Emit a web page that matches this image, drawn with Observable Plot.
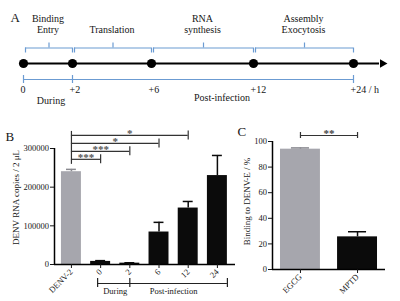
<!DOCTYPE html>
<html><head><meta charset="utf-8">
<script src="https://cdn.jsdelivr.net/npm/d3@7"></script>
<script src="https://cdn.jsdelivr.net/npm/@observablehq/plot@0.6"></script>
<style>
html,body{margin:0;padding:0;background:#fff;}
#fig{position:relative;width:400px;height:301px;overflow:hidden;background:#fff;}
#fig > svg{position:absolute;margin:0;}
</style></head><body><div id="fig"></div>
<script>
// ---------- Panel A data ----------
const phaseLabels = ["Binding\nEntry", "Translation", "RNA\nsynthesis", "Assembly\nExocytosis"];
const phaseStart = [0, 2, 6, 12];
const phaseEnd = [2, 6, 12, 24];
const timepoints = [0, 2, 6, 12, 24];
const timeLabels = ["0", "+2", "+6", "+12", "+24 / h"];
const spanLabels = ["During", "Post-infection"];
const spanStart = [0, 2];
const spanEnd = [2, 24];

// ---------- Panel B data ----------
const categories = ["DENV-2", "0", "2", "6", "12", "24"];
const rnaCopies = [240000, 8000, 3500, 84000, 146000, 230000];
const rnaErr = [6000, 2000, 1000, 25000, 17000, 52000];
const rnaTicks = [0, 100000, 200000, 300000];
const sigTargets = ["0", "2", "6", "12"];
const sigLabels = ["***", "***", "*", "*"];
const groupLabels = ["During", "Post-infection"];
const groupFrom = ["0", "2"];
const groupTo = ["2", "24"];

// ---------- Panel C data ----------
const compounds = ["EGCG", "MPTD"];
const binding = [94, 25.5];
const bindingErr = [1, 4];
const bindingTicks = [0, 20, 40, 60, 80, 100];
const sigC = {from: "EGCG", to: "MPTD", label: "**"};

// ---------- styling ----------
const serif = "'Liberation Serif', 'Times New Roman', serif";
const blue = "#6b9bd2";
const gray = "#a6a6ad";
const black = "#0b0b0b";
const ink = "#161616";
const fig = document.getElementById("fig");

// ================= Panel A =================
const phases = phaseLabels.map((label, i) => ({label, start: phaseStart[i], end: phaseEnd[i], mid: (phaseStart[i] + phaseEnd[i]) / 2}));
const spans = spanLabels.map((label, i) => ({label, start: spanStart[i], end: spanEnd[i]}));
const spanBounds = Array.from(new Set([...spanStart, ...spanEnd]));
const xA = {type: "linear", domain: timepoints, range: [23, 72, 151, 253, 353]};
const xAscale = Plot.scale({x: xA});
const pixMidHour = d => xAscale.invert((xAscale.apply(d.start) + xAscale.apply(d.end)) / 2);

const A = Plot.plot({
  width: 400, height: 110, margin: 0,
  style: {fontFamily: serif, fontSize: "10px", color: ink, background: "transparent"},
  x: {...xA, axis: null},
  y: {domain: [-47, 63], range: [110, 0], axis: null},
  marks: [
    // braces
    Plot.ruleY(phases, {x1: "start", x2: "end", y: 15.5, insetLeft: 2, stroke: blue, strokeWidth: 1.2}),
    Plot.ruleX(phases, {x: "start", y1: 10.5, y2: 15.5, dx: 2, stroke: blue, strokeWidth: 1.2}),
    Plot.ruleX(phases, {x: "end", y1: 10.5, y2: 15.5, stroke: blue, strokeWidth: 1.2}),
    Plot.ruleX(phases, {x: "mid", y1: 15.5, y2: 20.5, dx: 1, stroke: blue, strokeWidth: 1.2}),
    Plot.text(phases, {x: "mid", y: 30.5, text: "label", lineAnchor: "bottom", lineHeight: 1.15, fill: ink, fontSize: 10}),
    // timeline
    Plot.ruleY([0], {x1: 0, x2: 24, insetRight: -26, stroke: "black", strokeWidth: 2}),
    Plot.dot([24], {x: d => d, y: 0, symbol: "triangle", rotate: 90, r: 3.2, dx: 29, fill: "black", stroke: "none"}),
    Plot.dot(timepoints, {x: d => d, y: 0, r: 4.6, fill: "black"}),
    // bottom span
    Plot.ruleY(spans, {x1: "start", x2: "end", y: -16, stroke: blue, strokeWidth: 1.2}),
    Plot.ruleX(spanBounds, {x: d => d, y1: -12, y2: -20, stroke: blue, strokeWidth: 1.2}),
    Plot.text(timepoints, {x: d => d, y: -22.5, text: (d, i) => timeLabels[i], textAnchor: "start", lineAnchor: "top", dx: -3, fill: ink, fontSize: 10}),
    Plot.text(spans.slice(0, 1), {x: pixMidHour, y: -40, text: "label", lineAnchor: "bottom", dx: 3, fill: ink, fontSize: 10}),
    Plot.text(spans.slice(1), {x: pixMidHour, y: -37, text: "label", lineAnchor: "bottom", dx: 9, fill: ink, fontSize: 10}),
    Plot.text(["A"], {frameAnchor: "top-left", textAnchor: "start", lineAnchor: "bottom", dx: 10, dy: 21, fontSize: 13, fill: ink})
  ]
});
A.style.left = "0px"; A.style.top = "0px";

// ================= Panel B =================
const rna = categories.map((c, i) => ({category: c, i, mean: rnaCopies[i], err: rnaErr[i]}));
const xBdom = [-0.58, 5.62];
const pxB = 300000 / 116;      // data units per pixel
const hwB = 0.342, capB = 0.17;
const idx = c => categories.indexOf(c);
const sigB = sigTargets.map((t, j) => ({to: idx(t), label: sigLabels[j], level: 272000 + j * 20600}));
const sigTop = sigB[sigB.length - 1].level + 4 * pxB;
const sigBottom = rna[0].mean + rna[0].err + 5 * pxB;
const groups = groupLabels.map((label, i) => ({label, from: idx(groupFrom[i]), to: idx(groupTo[i])}));
const gBounds = Array.from(new Set([...groups.map(g => g.from), ...groups.map(g => g.to)]));
const barColor = d => d.category === "DENV-2" ? gray : black;
const errColor = d => d.category === "DENV-2" ? "#8a8a90" : black;

const B = Plot.plot({
  width: 240, height: 191,
  marginLeft: 54, marginRight: 5, marginTop: 38, marginBottom: 37,
  style: {fontFamily: serif, fontSize: "8.5px", color: ink, background: "transparent"},
  x: {domain: xBdom},
  y: {domain: [0, 300000]},
  marks: [
    Plot.rectY(rna, {x1: d => d.i - hwB, x2: d => d.i + hwB, y1: 0, y2: "mean", fill: barColor}),
    Plot.ruleX(rna, {x: "i", y1: "mean", y2: d => d.mean + d.err, stroke: errColor, strokeWidth: 1.5}),
    Plot.ruleY(rna, {y: d => d.mean + d.err, x1: d => d.i - capB, x2: d => d.i + capB, stroke: errColor, strokeWidth: 1.5}),
    Plot.ruleY([0], {stroke: "black", strokeWidth: 1.5}),
    Plot.ruleX([xBdom[0]], {y1: 0, y2: 300000, stroke: "black", strokeWidth: 1.5}),
    Plot.axisY({ticks: rnaTicks, tickFormat: d3.format("d"), tickSize: 4, tickPadding: 1.5, label: null, fontSize: 8.5}),
    Plot.axisX({ticks: rna.map(d => d.i), tickFormat: i => categories[i], tickRotate: -45, tickSize: 4, tickPadding: 2, label: null, fontSize: 8.5}),
    // significance brackets
    Plot.ruleX([0], {x: 0, y1: sigBottom, y2: sigTop, stroke: "#333", strokeWidth: 1.2}),
    Plot.ruleY(sigB, {y: "level", x1: 0, x2: "to", stroke: "#333", strokeWidth: 1.2}),
    Plot.ruleX(sigB, {x: "to", y1: d => d.level - 4.5 * pxB, y2: d => d.level + 4.5 * pxB, stroke: "#333", strokeWidth: 1.2}),
    Plot.text(sigB, {x: d => d.to / 2, y: "level", text: "label", dy: -1.5, fontSize: 11, fontWeight: "bold", fill: "#555"}),
    // group brackets under axis
    Plot.ruleY(groups, {x1: "from", x2: "to", y: -19 * pxB, insetLeft: -3, insetRight: -10, stroke: "#222", strokeWidth: 1.2}),
    Plot.ruleX(gBounds.slice(0, 1), {x: d => d, y1: -14 * pxB, y2: -23 * pxB, dx: -3, stroke: "#222", strokeWidth: 1.2}),
    Plot.ruleX(gBounds.slice(1, -1), {x: d => d, y1: -14 * pxB, y2: -23 * pxB, stroke: "#222", strokeWidth: 1.2}),
    Plot.ruleX(gBounds.slice(-1), {x: d => d, y1: -14 * pxB, y2: -23 * pxB, dx: 10, stroke: "#222", strokeWidth: 1.2}),
    Plot.text(groups, {x: d => (d.from + d.to) / 2, y: -29 * pxB, text: "label", lineAnchor: "bottom", fontSize: 8.5, fill: ink}),
    // y label and panel letter
    Plot.text(["DENV RNA copies / 2 μL"], {frameAnchor: "left", textAnchor: "middle", lineAnchor: "middle", rotate: -90, dx: -38, dy: -9, fontSize: 9, fill: ink}),
    Plot.text(["B"], {frameAnchor: "top-left", textAnchor: "start", lineAnchor: "bottom", dx: -49, dy: -8, fontSize: 13, fill: ink})
  ]
});
B.style.left = "0px"; B.style.top = "110px";

// ================= Panel C =================
const bind = compounds.map((c, i) => ({compound: c, i, mean: binding[i], err: bindingErr[i]}));
const xCdom = [-0.49, 1.49];
const pxC = 100 / 128;
const hwC = 0.35, capC = 0.158;
const sigCrow = [{from: compounds.indexOf(sigC.from), to: compounds.indexOf(sigC.to), label: sigC.label, level: 100 + 6 * pxC}];
const barColorC = d => d.compound === "EGCG" ? gray : black;
const errColorC = d => d.compound === "EGCG" ? "#8a8a90" : black;

const C = Plot.plot({
  width: 170, height: 191,
  marginLeft: 42, marginRight: 15, marginTop: 31, marginBottom: 32,
  style: {fontFamily: serif, fontSize: "8.5px", color: ink, background: "transparent"},
  x: {domain: xCdom},
  y: {domain: [0, 100]},
  marks: [
    Plot.rectY(bind, {x1: d => d.i - hwC, x2: d => d.i + hwC, y1: 0, y2: "mean", fill: barColorC}),
    Plot.ruleX(bind, {x: "i", y1: "mean", y2: d => d.mean + d.err, stroke: errColorC, strokeWidth: 1.5}),
    Plot.ruleY(bind, {y: d => d.mean + d.err, x1: d => d.i - capC, x2: d => d.i + capC, stroke: errColorC, strokeWidth: 1.5}),
    Plot.ruleY([0], {stroke: "black", strokeWidth: 1.5}),
    Plot.ruleX([xCdom[0]], {y1: 0, y2: 100, stroke: "black", strokeWidth: 1.5}),
    Plot.axisY({ticks: bindingTicks, tickSize: 4, tickPadding: 1.5, label: null, fontSize: 8.5}),
    Plot.axisX({ticks: bind.map(d => d.i), tickFormat: i => compounds[i], tickRotate: -45, tickSize: 4, tickPadding: 2, label: null, fontSize: 8.5}),
    Plot.ruleY(sigCrow, {y: "level", x1: "from", x2: "to", stroke: "#333", strokeWidth: 1.2}),
    Plot.ruleX(sigCrow, {x: "from", y1: d => d.level - 3 * pxC, y2: d => d.level + 3 * pxC, stroke: "#333", strokeWidth: 1.2}),
    Plot.ruleX(sigCrow, {x: "to", y1: d => d.level - 3 * pxC, y2: d => d.level + 3 * pxC, stroke: "#333", strokeWidth: 1.2}),
    Plot.text(sigCrow, {x: d => (d.from + d.to) / 2, y: "level", text: "label", dy: -2.5, fontSize: 11, fontWeight: "bold", fill: "#444"}),
    Plot.text(["Binding to DENV-E / %"], {frameAnchor: "left", textAnchor: "middle", lineAnchor: "middle", rotate: -90, dx: -25, dy: -4, fontSize: 9, fill: ink}),
    Plot.text(["C"], {frameAnchor: "top-left", textAnchor: "start", lineAnchor: "bottom", dx: -35, dy: -6, fontSize: 13, fill: ink})
  ]
});
C.style.left = "230px"; C.style.top = "110px";

fig.append(A, B, C);
</script>
</body></html>
